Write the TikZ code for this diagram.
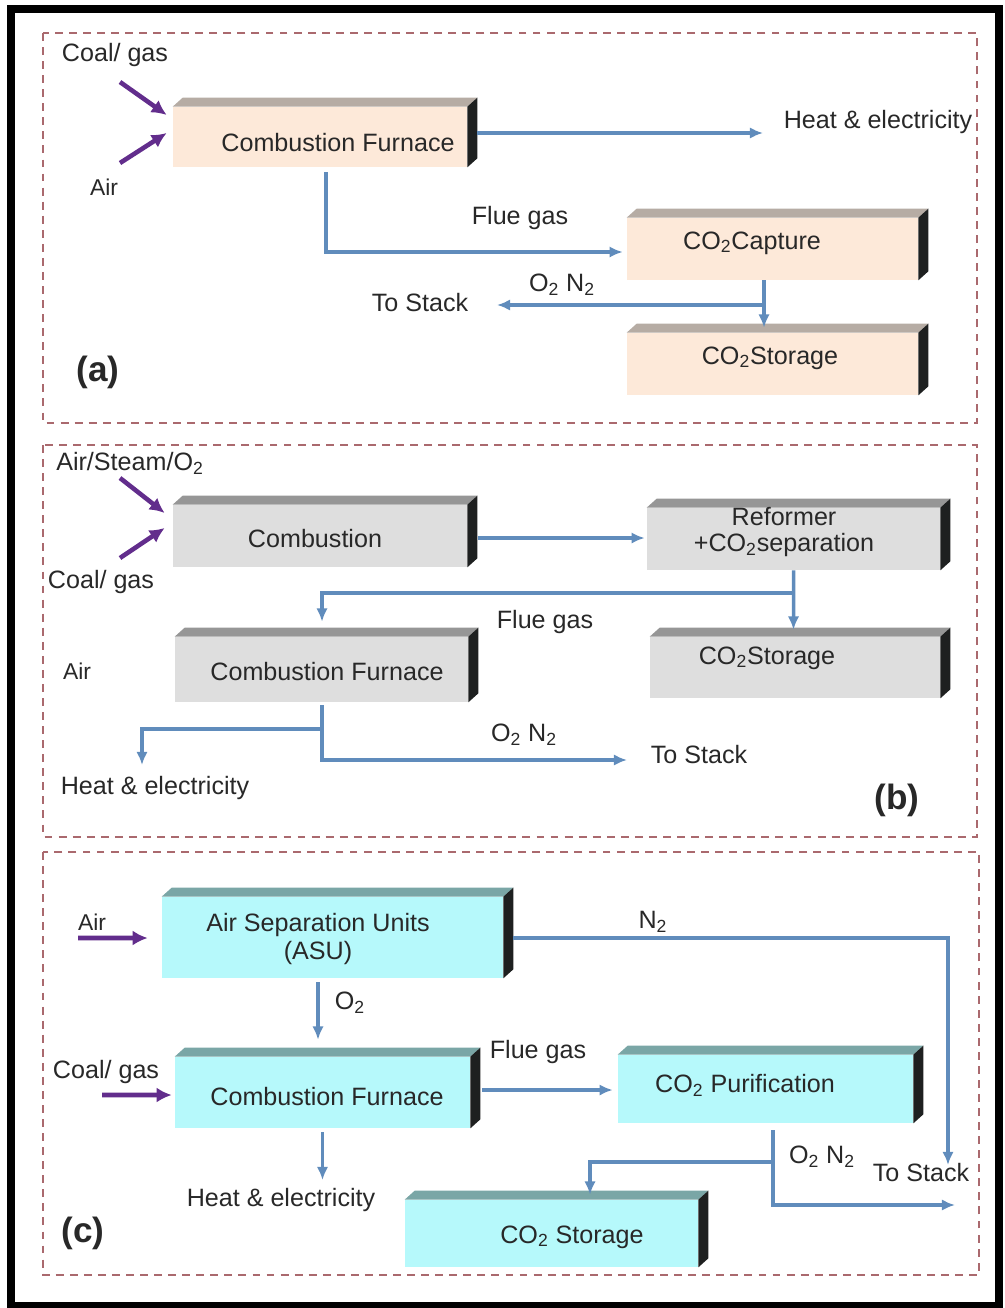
\documentclass[tikz,border=0pt]{standalone}
\usepackage{fontspec}
\setmainfont{Liberation Sans}
\usepackage{xcolor}
\usetikzlibrary{arrows.meta}

\definecolor{peach}{RGB}{253,233,217}
\definecolor{peachtop}{RGB}{182,172,164}
\definecolor{greyfront}{RGB}{222,222,222}
\definecolor{greytop}{RGB}{150,150,150}
\definecolor{cyanfront}{RGB}{182,249,251}
\definecolor{cyantop}{RGB}{122,166,166}
\definecolor{sidedark}{RGB}{30,32,32}
\definecolor{flowblue}{RGB}{96,140,188}
\definecolor{feedpurple}{RGB}{98,45,140}
\definecolor{panelred}{RGB}{170,105,110}
\definecolor{inkgrey}{RGB}{40,40,40}

\tikzset{
  slab/.style={rectangle, inner sep=0pt, minimum width=5.88cm, minimum height=1.24cm, fill=#1},
  lbl/.style={inner sep=1pt, text=inkgrey, font=\fontsize{14.3}{16}\selectfont},
  smalllbl/.style={lbl, font=\fontsize{13}{15}\selectfont},
  tagfont/.style={lbl, font=\bfseries\fontsize{20}{24}\selectfont},
  flow/.style={draw=flowblue, line width=2pt, -{Latex[length=7.5pt,width=6.5pt]}},
  feed/.style={draw=feedpurple, line width=2.6pt, -{Latex[length=8.5pt,width=8.5pt]}},
  panel/.style={draw=panelred, line width=1.2pt, dash pattern=on 4.5pt off 3.5pt},
}

\begin{document}
\begin{tikzpicture}[x=0.02cm, y=-0.02cm]

\useasboundingbox (0,0) rectangle (1004,1308);
\draw[line width=4pt] (11,9) rectangle (999,1305);

\draw[panel] (43,33) rectangle (977,423);
\draw[panel] (43,445) rectangle (977,837);
\draw[panel] (43,852) rectangle (979,1275);

% boxes
\begin{scope}
\node[slab=peach, minimum height=1.2cm] (fa) at (320,137) {};
\node[slab=peach, minimum width=5.82cm] (ca) at (772.5,249) {};
\node[slab=peach, minimum width=5.82cm] (sa) at (772.5,364) {};

\node[slab=greyfront] (cb) at (320,536) {};
\node[slab=greyfront, minimum width=5.86cm] (rb) at (793.5,539) {};
\node[slab=greyfront, minimum width=5.8cm, minimum height=1.22cm] (sb) at (795,667.5) {};
\node[slab=greyfront, minimum width=5.86cm, minimum height=1.3cm] (fb) at (321.5,669.5) {};

\node[slab=cyanfront, minimum width=6.82cm, minimum height=1.62cm] (ac) at (332.5,937.5) {};
\node[slab=cyanfront, minimum width=5.9cm, minimum height=1.42cm] (fc) at (322.5,1092.5) {};
\node[slab=cyanfront, minimum width=5.9cm, minimum height=1.36cm] (pc) at (765.5,1089) {};
\node[slab=cyanfront, minimum width=5.86cm, minimum height=1.34cm] (stc) at (551.5,1233.5) {};

\foreach \n/\c in {fa/peachtop, ca/peachtop, sa/peachtop, cb/greytop, rb/greytop, sb/greytop, fb/greytop, ac/cyantop, fc/cyantop, pc/cyantop, stc/cyantop}{
	\fill[fill=\c] (\n.north west) -- ([shift={(10,-9)}]\n.north west) -- ([shift={(10,-9)}]\n.north east) -- (\n.north east) -- cycle;
	\fill[sidedark] (\n.north east) -- ([shift={(10,-9)}]\n.north east) -- ([shift={(10,-9)}]\n.south east) -- (\n.south east) -- cycle;
 }
\end{scope}

% (a)
\begin{scope}
\coordinate (cgAout) at (120,82);
\coordinate (airAout) at (120,163);
\coordinate (heAin) at (763,133);
\coordinate (jA) at (764,305);
\coordinate (tsAin) at (497,305);

\draw[feed] (cgAout) -- ([shift={(-6,-22)}]fa.west);
\draw[feed] (airAout) -- ([shift={(-6,-4)}]fa.west);
\draw[flow] ([shift={(10,-4)}]fa.east) -- (heAin);
\draw[flow] ([shift={(6,5)}]fa.south) |- ([shift={(-4,3)}]ca.west);
\draw[flow] ([shift={(-8.5,0)}]ca.south) -- ([shift={(-8.5,-5)}]sa.north);
\draw[flow] (jA) -- (tsAin);

\node[lbl] (cgA) at (115,55) {Coal/ gas};
\node[smalllbl] (airA) at (104,187) {Air};
\node[lbl] (heA) at (878,122) {Heat \& electricity};
\node[lbl] (flA) at (520,218) {Flue gas};
\node[lbl] (onA) at (562,285) {O\textsubscript{2} N\textsubscript{2}};
\node[lbl] (tsA) at (420,303) {To Stack};
\node[tagfont] (tagA) at (98,372) {(a)};
\node[lbl] (faT) at (338,143) {Combustion Furnace};
\node[lbl] (caT) at (752,243) {CO\textsubscript{2}Capture};
\node[lbl] (saT) at (770,358) {CO\textsubscript{2}Storage};
\end{scope}

% (b)
\begin{scope}
\coordinate (asBout) at (120,478);
\coordinate (cgBout) at (120,558);
\coordinate (jB1) at (793.5,593);
\coordinate (tsBin) at (627,760);
\coordinate (jB2) at (322,729);
\coordinate (heBin) at (142,765);

\draw[feed] (asBout) -- ([shift={(-8,-23)}]cb.west);
\draw[feed] (cgBout) -- ([shift={(-8,-8)}]cb.west);
\draw[flow] ([shift={(11,2)}]cb.east) -- ([shift={(-2,-1)}]rb.west);
\draw[flow] (rb.south) -- ([shift={(-1.5,-7)}]sb.north);
\draw[flow] (jB1) -| ([shift={(0.5,-15)}]fb.north);
\draw[flow] ([shift={(0.5,3)}]fb.south) |- (tsBin);
\draw[flow] (jB2) -| (heBin);

\node[lbl] (asB) at (130,463) {Air/Steam/O\textsubscript{2}};
\node[lbl] (cgB) at (101,582) {Coal/ gas};
\node[smalllbl] (airB) at (77,671) {Air};
\node[lbl] (flB) at (545,622) {Flue gas};
\node[lbl] (onB) at (524,735) {O\textsubscript{2} N\textsubscript{2}};
\node[lbl] (tsB) at (699,755) {To Stack};
\node[lbl] (heB) at (155,788) {Heat \& electricity};
\node[tagfont] (tagB) at (897,800) {(b)};
\node[lbl] (cbT) at (315,539) {Combustion};
\node[lbl, align=center, font=\fontsize{14.3}{14.5}\selectfont] (rbT) at (784,532) {Reformer\\+CO\textsubscript{2}separation};
\node[lbl] (sbT) at (767,658) {CO\textsubscript{2}Storage};
\node[lbl] (fbT) at (327,672) {Combustion Furnace};
\end{scope}

% (c)
\begin{scope}
\coordinate (airCout) at (78,938);
\coordinate (cgCout) at (102,1095);
\coordinate (tsC1) at (948,1165);
\coordinate (heCin) at (322.5,1180);
\coordinate (tsC2) at (955,1205);
\coordinate (jC) at (773,1162);

\draw[feed] (airCout) -- ([shift={(-14,0.5)}]ac.west);
\draw[feed] (cgCout) -- ([shift={(-3,2.5)}]fc.west);
\draw[flow] ([shift={(-14.5,4)}]ac.south) -- ([shift={(-4.5,-17)}]fc.north);
\draw[flow] ([shift={(10,0.5)}]ac.east) -| (tsC1);
\draw[flow] ([shift={(12,-2.5)}]fc.east) -- ([shift={(-5,1)}]pc.west);
\draw[flow] ([shift={(0,4)}]fc.south) -- (heCin);
\draw[flow] ([shift={(7.5,7)}]pc.south) |- (tsC2);
\draw[flow] (jC) -| ([shift={(38.5,-5)}]stc.north);

\node[smalllbl] (airC) at (92,922) {Air};
\node[lbl] (cgC) at (106,1072) {Coal/ gas};
\node[lbl] (n2C) at (653,922) {N\textsubscript{2}};
\node[lbl] (o2C) at (350,1003) {O\textsubscript{2}};
\node[lbl] (flC) at (538,1052) {Flue gas};
\node[lbl] (onC) at (822,1157) {O\textsubscript{2} N\textsubscript{2}};
\node[lbl] (tsC) at (921,1173) {To Stack};
\node[lbl] (heC) at (281,1200) {Heat \& electricity};
\node[tagfont] (tagC) at (83,1233) {(c)};
\node[lbl, align=center] (acT) at (318,939) {Air Separation Units\\(ASU)};
\node[lbl] (fcT) at (327,1097) {Combustion Furnace};
\node[lbl] (pcT) at (745,1085) {CO\textsubscript{2} Purification};
\node[lbl] (stcT) at (572,1237) {CO\textsubscript{2} Storage};
\end{scope}

\end{tikzpicture}
\end{document}
